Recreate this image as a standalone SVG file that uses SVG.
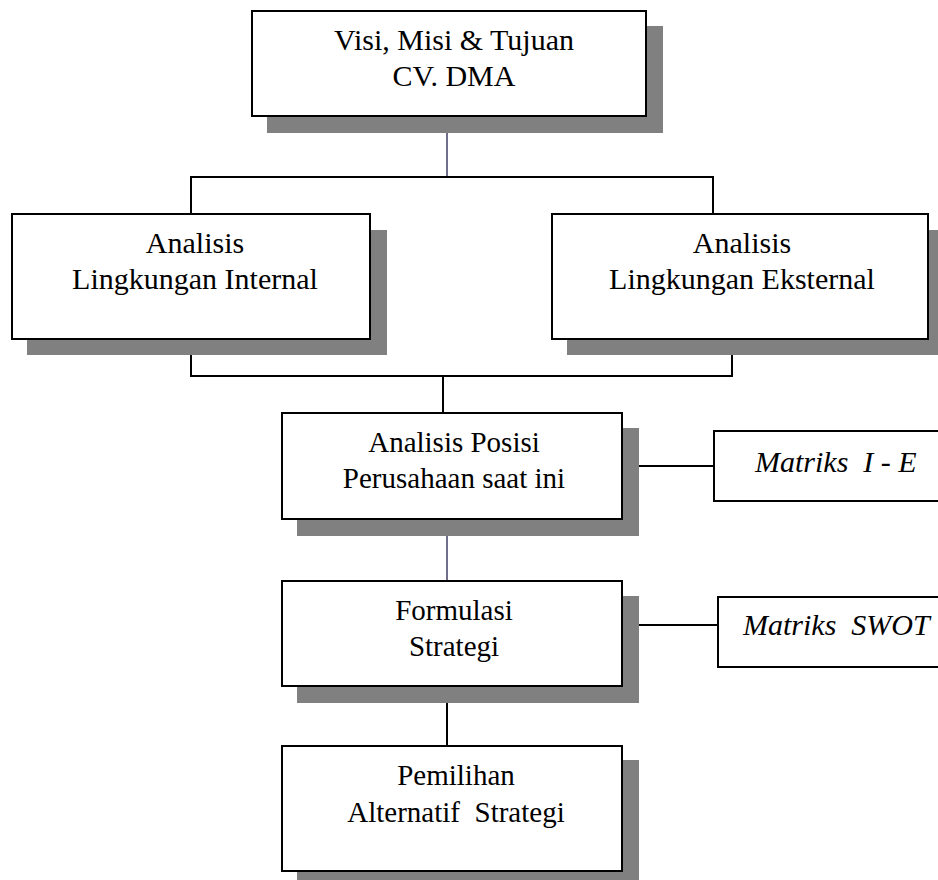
<svg xmlns="http://www.w3.org/2000/svg" width="938" height="880" viewBox="0 0 938 880">
  <style>
    .shadow { fill: #808080; }
    .box { fill: #ffffff; stroke: #000000; stroke-width: 2; }
    .lbl { font-family: "Liberation Serif", "Times New Roman", serif; font-size: 30px; fill: #000000; text-anchor: middle; }
    .mid { font-size: 29px; }
    .ital { font-style: italic; text-anchor: start; }
    .link { fill: none; stroke: #000000; stroke-width: 2; }
    .link-soft { fill: none; stroke: #4b4b6e; stroke-width: 1.6; }
  </style>
  <rect width="938" height="880" fill="#ffffff"/>

  <!-- connectors -->
  <g id="connectors">
    <line class="link-soft" x1="447" y1="117" x2="447" y2="177"/>
    <polyline class="link" points="191,214 191,177 713,177 713,214"/>
    <polyline class="link" points="191,339 191,376 732,376 732,340"/>
    <line class="link" x1="443" y1="376" x2="443" y2="413"/>
    <line class="link" x1="623" y1="466" x2="714" y2="466"/>
    <line class="link-soft" x1="447" y1="520" x2="447" y2="581"/>
    <line class="link" x1="627" y1="625" x2="718" y2="625"/>
    <line class="link" x1="447" y1="685" x2="447" y2="746"/>
  </g>

  <!-- vision / mission -->
  <g id="visi">
    <rect class="shadow" x="267" y="26" width="396" height="107"/>
    <rect class="box" x="252" y="11" width="394" height="105"/>
    <text class="lbl" x="454" y="50">Visi, Misi &amp; Tujuan</text>
    <text class="lbl" x="454" y="86">CV. DMA</text>
  </g>

  <!-- internal environment -->
  <g id="internal">
    <rect class="shadow" x="27" y="230" width="360" height="125"/>
    <rect class="box" x="12" y="214" width="358" height="125"/>
    <text class="lbl" x="195" y="253">Analisis</text>
    <text class="lbl" x="195" y="289">Lingkungan Internal</text>
  </g>

  <!-- external environment -->
  <g id="eksternal">
    <rect class="shadow" x="567" y="230" width="371" height="125"/>
    <rect class="box" x="552" y="214" width="376" height="125"/>
    <text class="lbl" x="742" y="253">Analisis</text>
    <text class="lbl" x="742" y="289">Lingkungan Eksternal</text>
  </g>

  <!-- current position -->
  <g id="posisi">
    <rect class="shadow" x="297" y="428" width="342" height="108"/>
    <rect class="box" x="282" y="413" width="340" height="106"/>
    <text class="lbl mid" x="454" y="452">Analisis Posisi</text>
    <text class="lbl mid" x="454" y="488">Perusahaan saat ini</text>
  </g>

  <g id="matriks-ie">
    <rect class="box" x="714" y="431" width="240" height="70"/>
    <text class="lbl ital" x="755" y="472" xml:space="preserve">Matriks  I - E</text>
  </g>

  <!-- strategy formulation -->
  <g id="formulasi">
    <rect class="shadow" x="297" y="596" width="342" height="107"/>
    <rect class="box" x="282" y="581" width="340" height="105"/>
    <text class="lbl mid" x="454" y="620">Formulasi</text>
    <text class="lbl mid" x="454" y="656">Strategi</text>
  </g>

  <g id="matriks-swot">
    <rect class="box" x="718" y="597" width="240" height="70"/>
    <text class="lbl ital" x="743" y="635" xml:space="preserve">Matriks  SWOT</text>
  </g>

  <!-- strategy choice -->
  <g id="pemilihan">
    <rect class="shadow" x="297" y="760" width="342" height="120"/>
    <rect class="box" x="282" y="746" width="340" height="125"/>
    <text class="lbl mid" x="456" y="785">Pemilihan</text>
    <text class="lbl mid" x="456" y="822" xml:space="preserve">Alternatif  Strategi</text>
  </g>
</svg>
